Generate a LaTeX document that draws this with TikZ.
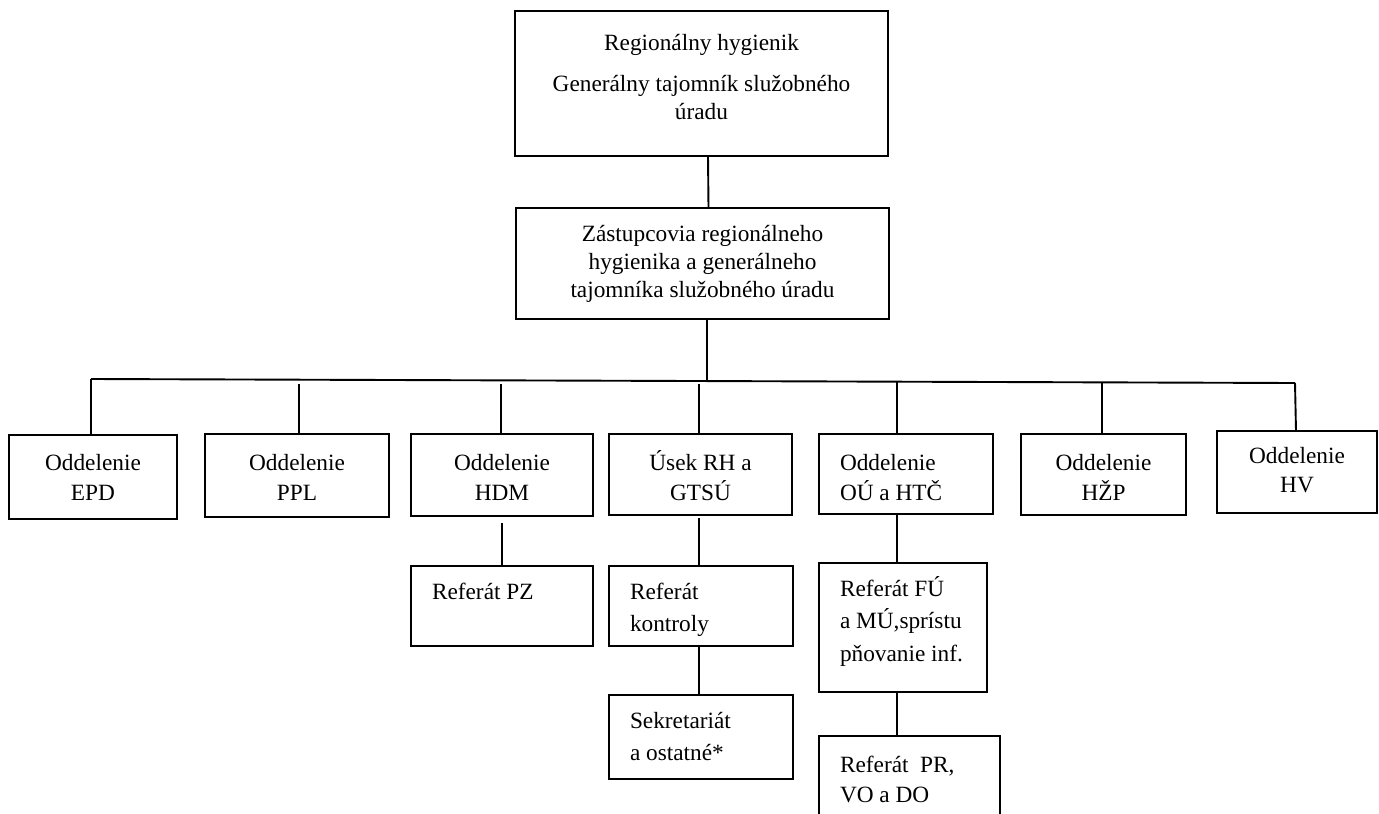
\documentclass[tikz,border=0pt]{standalone}
\usepackage{fontspec}
\setmainfont{Liberation Serif}
\newcommand{\bxc}[5]{\begin{minipage}[t][#2][t]{#1}\centering\fontsize{23.3pt}{#4}\selectfont\rule{0pt}{#3}#5\end{minipage}}
\newcommand{\bxl}[5]{\begin{minipage}[t][#2][t]{#1}\raggedright\leftskip=21pt\fontsize{23.3pt}{#4}\selectfont\rule{0pt}{#3}#5\end{minipage}}
\begin{document}
\begin{tikzpicture}[x=1pt,y=-1pt,
  box/.style={draw, line width=1.9pt, inner sep=0pt, outer sep=0pt, anchor=north west},
  conn/.style={line width=1.9pt}]
\useasboundingbox (0,0) rectangle (1379,814);
% top levels
\node[box] (top) at (515,11) {\bxc{373pt}{145pt}{39pt}{28pt}{Regionálny hygienik\\[13pt]Generálny tajomník služobného\\úradu}};
\node[box] (dep) at (516,208) {\bxc{373pt}{111pt}{33pt}{28pt}{Zástupcovia regionálneho\\hygienika a generálneho\\tajomníka služobného úradu}};
% departments
\node[box] (epd) at (9,435) {\bxc{168pt}{84pt}{35pt}{30pt}{Oddelenie\\EPD}};
\node[box] (ppl) at (205,434) {\bxc{184pt}{83pt}{36pt}{30pt}{Oddelenie\\PPL}};
\node[box] (hdm) at (411,434) {\bxc{182pt}{82pt}{36pt}{30pt}{Oddelenie\\HDM}};
\node[box] (rh) at (609,434) {\bxc{183pt}{81pt}{36pt}{30pt}{Úsek RH a\\GTSÚ}};
\node[box] (ou) at (819,434) {\bxl{174pt}{80pt}{36pt}{30pt}{Oddelenie\\OÚ a HTČ}};
\node[box] (hzp) at (1021,434) {\bxc{165pt}{81pt}{36pt}{30pt}{Oddelenie\\HŽP}};
\node[box] (hv) at (1217,431) {\bxc{160pt}{82pt}{32pt}{29pt}{Oddelenie\\HV}};
% sub units
\node[box] (pz) at (411,566) {\bxl{182pt}{80pt}{33pt}{31pt}{Referát PZ}};
\node[box] (kon) at (609,566) {\bxl{184pt}{80pt}{33pt}{32pt}{Referát\\kontroly}};
\node[box] (sek) at (609,695) {\bxl{184pt}{84pt}{33pt}{32pt}{Sekretariát\\a ostatné*}};
\node[box] (fu) at (819,563) {\bxl{168pt}{129pt}{33pt}{32.5pt}{Referát FÚ\\a MÚ,sprístu\\pňovanie inf.}};
\node[box] (pr) at (819,736) {\bxl{181pt}{100pt}{36pt}{30pt}{Referát\ \ PR,\\VO a DO}};
% connectors
\coordinate (busL) at (91,379);
\coordinate (busR) at (1295,383);
\coordinate (busM) at (707,380);
\draw[conn] (busL) -- (busR);
\draw[conn] ([xshift=6.5pt]top.south) -- ([xshift=6pt]dep.north);
\draw[conn] (dep.south -| busM) -- (busM);
\coordinate (tppl) at (299,384);
\coordinate (thdm) at (501,384);
\coordinate (trh) at (699,384);
\coordinate (tou) at (897,381);
\coordinate (thzp) at (1102,383);
\draw[conn] (busL) -- (busL |- epd.north);
\draw[conn] (tppl) -- (tppl |- ppl.north);
\draw[conn] (thdm) -- (thdm |- hdm.north);
\draw[conn] (trh) -- (trh |- rh.north);
\draw[conn] (tou) -- (tou |- ou.north);
\draw[conn] (thzp) -- (thzp |- hzp.north);
\draw[conn] (busR) -- ([xshift=-1pt]hv.north);
\coordinate (shdm) at (502,523);
\coordinate (srh) at (699,518);
\draw[conn] (shdm) -- (shdm |- pz.north);
\draw[conn] (srh) -- (srh |- kon.north);
\draw[conn] (kon.south -| srh) -- (sek.north -| srh);
\draw[conn] (ou.south -| tou) -- (fu.north -| tou);
\draw[conn] (fu.south -| tou) -- (pr.north -| tou);
\end{tikzpicture}
\end{document}
